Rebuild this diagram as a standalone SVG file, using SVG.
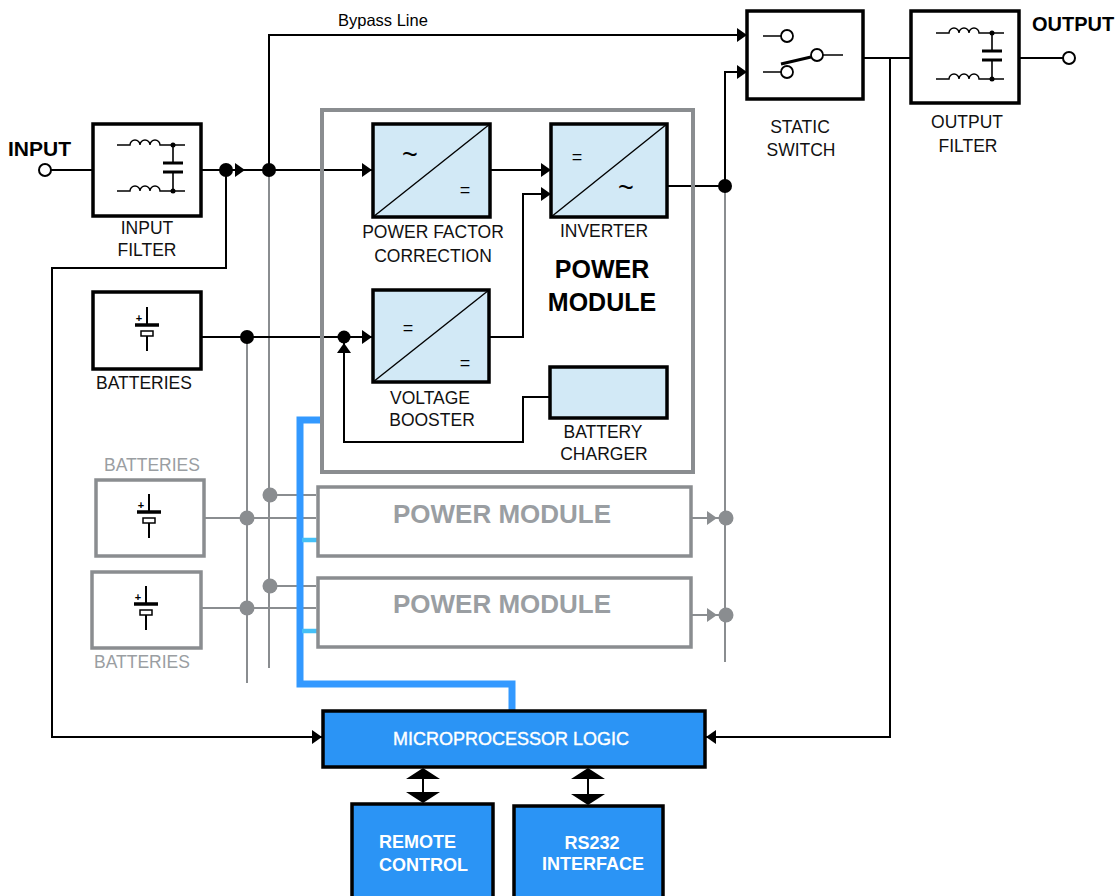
<svg xmlns="http://www.w3.org/2000/svg" xmlns:xlink="http://www.w3.org/1999/xlink" width="1119" height="896" viewBox="0 0 1119 896">
<style>
text{font-family:"Liberation Sans",Arial,sans-serif;}
.lbl{font-size:17.5px;fill:#111;text-anchor:middle;}
.glbl{font-size:17.5px;fill:#9a9ea2;text-anchor:middle;}
.box{fill:#fff;stroke:#000;stroke-width:3.5;}
.gbox{fill:#fff;stroke:#8a8d90;stroke-width:3.5;}
.conv{fill:#d2e9f6;stroke:#000;stroke-width:3.5;}
.blue{fill:#2b94f5;stroke:#000;stroke-width:3.5;}
.ln{fill:none;stroke:#000;stroke-width:2;}
.gln{fill:none;stroke:#8a8d90;stroke-width:2;}
.thin{fill:none;stroke:#000;stroke-width:1.4;}
.sym{font-size:18px;fill:#000;text-anchor:middle;}
.tld{font-size:27px;fill:#000;text-anchor:middle;}
.wt{fill:#fff;font-weight:bold;font-size:18px;}
</style>
<defs>
<path id="ar" d="M0,0 L-10,-7 L-10,7 Z"/>
<g id="coil"><path d="M0,0 H13 a5,5 0 0,1 10,0 a5,5 0 0,1 10,0 a5,5 0 0,1 10,0 H68" fill="none" stroke="#000" stroke-width="1.4"/></g>
<g id="filt">
<use xlink:href="#coil" x="0" y="0"/>
<use xlink:href="#coil" x="0" y="46"/>
<path d="M56,0 V18 M56,27 V46" fill="none" stroke="#000" stroke-width="1.6"/>
<path d="M46,18 H66 M46,27 H66" fill="none" stroke="#000" stroke-width="3"/>
<circle cx="56" cy="0" r="2.5"/><circle cx="56" cy="46" r="2.5"/>
</g>
<g id="batt">
<path d="M0,-23 V-5 M0,6 V21" stroke="#000" stroke-width="2" fill="none"/>
<path d="M-12,-5 H12" stroke="#000" stroke-width="3.5" fill="none"/>
<rect x="-6" y="1" width="12" height="5" fill="none" stroke="#000" stroke-width="1.5"/>
<text x="-8" y="-8" font-size="11" font-weight="bold" text-anchor="middle" fill="#000">+</text>
</g>
</defs>

<g id="connectors">
<path class="ln" d="M51,170 H93"/>
<path class="ln" d="M201,170 H372"/>
<path class="ln" d="M226,170 V268 H52 V737 H322"/>
<path class="ln" d="M269,170 V35 H747"/>
<path class="gln" d="M269,170 V668"/>
<path class="ln" d="M490,170 H551"/>
<path class="ln" d="M490,337 H523 V194 H551"/>
<path class="ln" d="M667,186 H725"/>
<path class="ln" d="M725,186 V72 H747"/>
<path class="gln" d="M725,186 V662"/>
<path class="ln" d="M201,337 H373"/>
<path class="gln" d="M247,337 V683"/>
<path class="ln" d="M550,397 H523 V442 H344 V342"/>
<path class="ln" d="M863,58 H911"/>
<path class="ln" d="M890,58 V737 H706"/>
<path class="ln" d="M1020,58 H1063"/>
<path class="gln" d="M270,495 H316 M204,518 H316 M270,586 H316 M201,608 H316"/>
<path class="gln" d="M691,518 H726 M691,615 H726"/>
<path d="M322,420 H300 V684 H512 V711" fill="none" stroke="#3399ff" stroke-width="7"/>
<path d="M302,540 H322 M302,631 H322" fill="none" stroke="#45c0f7" stroke-width="4.5"/>
<path class="ln" d="M423,770 V802 M588,770 V802"/>
<g fill="#000">
<use xlink:href="#ar" transform="translate(245,170)"/>
<use xlink:href="#ar" transform="translate(372,170)"/>
<use xlink:href="#ar" transform="translate(551,170)"/>
<use xlink:href="#ar" transform="translate(551,194)"/>
<use xlink:href="#ar" transform="translate(747,35)"/>
<use xlink:href="#ar" transform="translate(747,72)"/>
<use xlink:href="#ar" transform="translate(372,337)"/>
<use xlink:href="#ar" transform="translate(344,343) rotate(-90)"/>
<use xlink:href="#ar" transform="translate(322,737)"/>
<use xlink:href="#ar" transform="translate(706,737) rotate(180)"/>
<path d="M423,768 L406,779 H440 Z M423,803 L406,792 H440 Z"/>
<path d="M588,768 L571,779 H605 Z M588,805 L571,794 H605 Z"/>
<circle cx="226" cy="170" r="7"/>
<circle cx="269" cy="170" r="7"/>
<circle cx="247" cy="337" r="7"/>
<circle cx="344" cy="337" r="6.5"/>
<circle cx="725" cy="186" r="7"/>
</g>
<g fill="#8a8d90">
<use xlink:href="#ar" transform="translate(717,518)"/>
<use xlink:href="#ar" transform="translate(717,615)"/>
<circle cx="270" cy="495" r="7.5"/>
<circle cx="247" cy="518" r="7.5"/>
<circle cx="270" cy="586" r="7.5"/>
<circle cx="247" cy="608" r="7.5"/>
<circle cx="726" cy="518" r="7.5"/>
<circle cx="726" cy="615" r="7.5"/>
</g>
</g>

<g id="input">
<text x="8" y="156" font-size="21" font-weight="bold">INPUT</text>
<circle cx="45" cy="170" r="6" fill="#fff" stroke="#000" stroke-width="2"/>
</g>

<g id="input-filter">
<rect class="box" x="93" y="124" width="108" height="92"/>
<use xlink:href="#filt" x="117" y="145"/>
<text class="lbl" x="147" y="234">INPUT</text>
<text class="lbl" x="147" y="256">FILTER</text>
</g>

<g id="static-switch">
<rect class="box" x="747" y="11" width="116" height="88"/>
<path class="thin" d="M763,36 H781 M763,72 H781 M823,55 H843" stroke-width="1.6"/>
<circle cx="787" cy="36" r="6" fill="#fff" stroke="#000" stroke-width="1.8"/>
<circle cx="787" cy="72" r="6" fill="#fff" stroke="#000" stroke-width="1.8"/>
<circle cx="817" cy="55" r="6" fill="#fff" stroke="#000" stroke-width="1.8"/>
<path d="M781,64 L811,57" stroke="#000" stroke-width="3" fill="none"/>
<text class="lbl" x="800" y="133">STATIC</text>
<text class="lbl" x="801" y="156">SWITCH</text>
</g>

<g id="output-filter">
<rect class="box" x="911" y="11" width="108" height="92"/>
<use xlink:href="#filt" x="936" y="33"/>
<text class="lbl" x="967" y="128">OUTPUT</text>
<text class="lbl" x="968" y="152">FILTER</text>
</g>

<g id="output">
<circle cx="1069" cy="58" r="6" fill="#fff" stroke="#000" stroke-width="2"/>
<text x="1032" y="31" font-size="20" font-weight="bold">OUTPUT</text>
</g>

<g id="bypass-label">
<text x="338" y="26" font-size="16.5">Bypass Line</text>
</g>

<g id="power-module">
<rect x="322" y="110" width="371" height="362" fill="none" stroke="#8a8d90" stroke-width="4"/>
<text x="602" y="278" font-size="25" font-weight="bold" text-anchor="middle">POWER</text>
<text x="602" y="311" font-size="25" font-weight="bold" text-anchor="middle">MODULE</text>
</g>

<g id="pfc">
<rect class="conv" x="373" y="124" width="117" height="93"/>
<path class="thin" d="M373,217 L490,124"/>
<text class="tld" x="410" y="164">~</text>
<text class="sym" x="465" y="196">=</text>
<text class="lbl" x="433" y="238">POWER FACTOR</text>
<text class="lbl" x="433" y="262">CORRECTION</text>
</g>

<g id="inverter">
<rect class="conv" x="551" y="124" width="116" height="93"/>
<path class="thin" d="M551,217 L667,124"/>
<text class="sym" x="577" y="163">=</text>
<text class="tld" x="626" y="197">~</text>
<text class="lbl" x="604" y="237">INVERTER</text>
</g>

<g id="voltage-booster">
<rect class="conv" x="373" y="290" width="116" height="92"/>
<path class="thin" d="M373,382 L489,290"/>
<text class="sym" x="408" y="334">=</text>
<text class="sym" x="465" y="369">=</text>
<text class="lbl" x="430" y="404">VOLTAGE</text>
<text class="lbl" x="432" y="426">BOOSTER</text>
</g>

<g id="battery-charger">
<rect class="conv" x="550" y="367" width="117" height="51"/>
<text class="lbl" x="603" y="438">BATTERY</text>
<text class="lbl" x="604" y="460">CHARGER</text>
</g>

<g id="batteries">
<rect class="box" x="93" y="292" width="108" height="77"/>
<use xlink:href="#batt" transform="translate(147,330)"/>
<text class="lbl" x="144" y="389">BATTERIES</text>
</g>

<g id="batteries-2">
<text class="glbl" x="152" y="471">BATTERIES</text>
<rect class="gbox" x="96" y="480" width="108" height="76"/>
<use xlink:href="#batt" transform="translate(149,517)"/>
</g>

<g id="batteries-3">
<rect class="gbox" x="92" y="572" width="109" height="76"/>
<use xlink:href="#batt" transform="translate(146,609)"/>
<text class="glbl" x="142" y="668">BATTERIES</text>
</g>

<g id="power-module-2">
<rect class="gbox" x="318" y="487" width="373" height="69"/>
<text x="502" y="523" font-size="26" font-weight="bold" fill="#9a9ea2" text-anchor="middle">POWER MODULE</text>
</g>

<g id="power-module-3">
<rect class="gbox" x="318" y="578" width="373" height="69"/>
<text x="502" y="613" font-size="26" font-weight="bold" fill="#9a9ea2" text-anchor="middle">POWER MODULE</text>
</g>

<g id="microprocessor">
<rect class="blue" x="323" y="711" width="382" height="56"/>
<text x="511" y="745" font-size="18" fill="#fff" stroke="#fff" stroke-width="0.4" text-anchor="middle">MICROPROCESSOR LOGIC</text>
</g>

<g id="remote-control">
<rect class="blue" x="352" y="804" width="141" height="100"/>
<text class="wt" x="379" y="848">REMOTE</text>
<text class="wt" x="379" y="871">CONTROL</text>
</g>

<g id="rs232">
<rect class="blue" x="514" y="806" width="149" height="100"/>
<text class="wt" x="592" y="849" text-anchor="middle">RS232</text>
<text class="wt" x="593" y="870" text-anchor="middle">INTERFACE</text>
</g>
</svg>
